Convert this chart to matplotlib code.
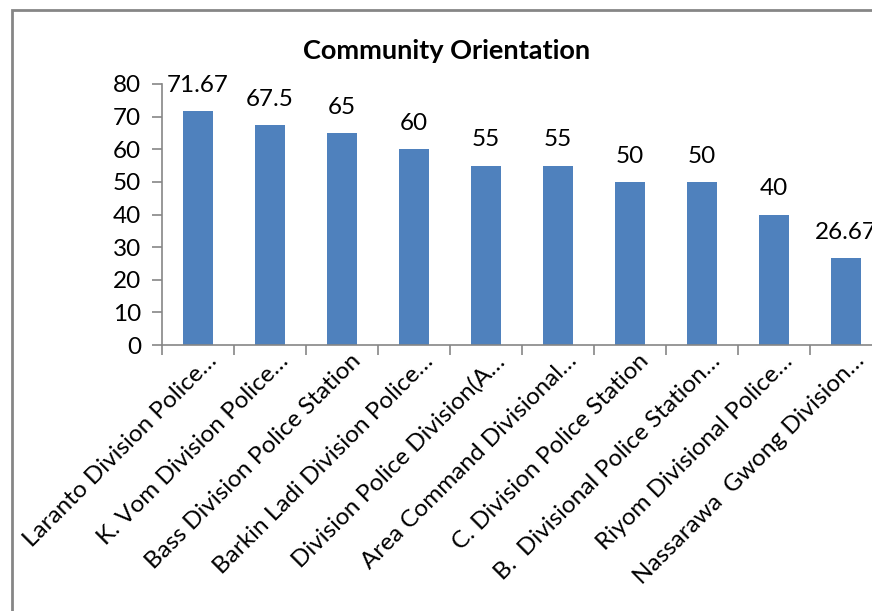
import matplotlib.pyplot as plt
from matplotlib.patches import Rectangle
from matplotlib.transforms import ScaledTranslation

plt.rcParams['font.family'] = ['Lato', 'DejaVu Sans']

stations = ['Laranto Division Police…', 'K. Vom Division Police…',
            'Bass Division Police Station', 'Barkin Ladi Division Police…',
            'Division Police Division(A…', 'Area Command Divisional…',
            'C. Division Police Station', 'B.  Divisional Police Station…',
            'Riyom Divisional Police…', 'Nassarawa  Gwong Division…']
scores = [71.67, 67.5, 65, 60, 55, 55, 50, 50, 40, 26.67]
score_labels = ['71.67', '67.5', '65', '60', '55', '55', '50', '50', '40', '26.67']

bar_color = '#4F81BD'
axis_color = '#868686'

fig = plt.figure(figsize=(8.72, 6.11), dpi=100)
ax = fig.add_axes([162 / 872, 1 - 345 / 611, 720 / 872, (345 - 84) / 611])

x = list(range(len(scores)))
ax.bar(x, scores, width=0.42, color=bar_color)
for xi, v, s in zip(x, scores, score_labels):
    ax.annotate(s, (xi, v), xytext=(0, 11), textcoords='offset points',
                ha='center', va='bottom', fontsize=17.5, color='black')

ax.set_xlim(-0.5, len(scores) - 0.5)
ax.set_ylim(0, 80)
ax.set_yticks(range(0, 81, 10))
ax.tick_params(axis='y', labelsize=17.5, length=7, width=1.2, color=axis_color, pad=8)

ax.set_xticks(x)
ax.set_xticklabels(stations, rotation=45, ha='right', rotation_mode='anchor', fontsize=17.5)
ax.tick_params(axis='x', which='major', length=0, pad=8)
ax.set_xticks([i - 0.5 for i in range(len(scores) + 1)], minor=True)
ax.tick_params(axis='x', which='minor', length=7, width=1.2, color=axis_color)

# nudge the slanted labels a bit right and up, as in the original
shift = ScaledTranslation(0.08, 0.06, fig.dpi_scale_trans)
for lab in ax.get_xticklabels():
    lab.set_transform(lab.get_transform() + shift)

for side in ['top', 'right']:
    ax.spines[side].set_visible(False)
for side in ['left', 'bottom']:
    ax.spines[side].set_color(axis_color)
    ax.spines[side].set_linewidth(1.2)

fig.text(447 / 872, 1 - 51 / 611, 'Community Orientation', ha='center', va='center',
         fontsize=19.5, fontweight='bold')

# outer chart frame (cut at right and bottom)
fig.patches.append(Rectangle((11.5 / 872, -0.1), 1.2, 1 - 10.5 / 611 + 0.1,
                             transform=fig.transFigure, fill=False,
                             edgecolor=axis_color, linewidth=2))

fig.savefig('out.png', dpi=100)
